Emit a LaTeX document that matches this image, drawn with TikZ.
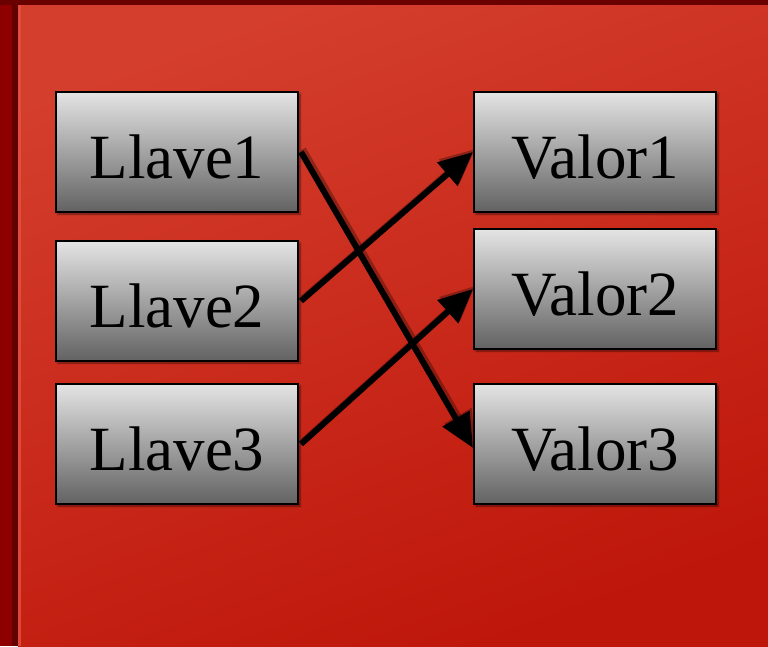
\documentclass[tikz,border=0pt]{standalone}
\usepackage{fontspec}
\setmainfont{Liberation Serif}
\usetikzlibrary{shadows.blur,arrows.meta}
\definecolor{bgdark}{HTML}{8E0000}
\definecolor{bgtop}{HTML}{6A0000}
\definecolor{paneltl}{HTML}{D43E2C}
\definecolor{panelbr}{HTML}{BE160A}
\definecolor{panedge}{HTML}{E25242}
\definecolor{boxtop}{HTML}{E4E4E4}
\definecolor{boxbot}{HTML}{626262}
\tikzset{
  kvbox/.style={draw=black, line width=2pt, minimum width=242pt, minimum height=120pt,
    top color=boxtop, bottom color=boxbot, inner sep=0pt,
    font=\fontsize{63}{70}\selectfont, text height=52pt, text depth=0pt,
    blur shadow={shadow xshift=2pt, shadow yshift=-2pt, shadow blur steps=6, shadow opacity=50}},
  link/.style={line width=6pt, -{Triangle[length=34pt,width=30pt]}},
  linkshadow/.style={link, black, opacity=0.3, transform canvas={shift={(2pt,3pt)}}}
}
\begin{document}
\begin{tikzpicture}[x=1pt,y=-1pt]
\useasboundingbox (0,0) rectangle (768,646);
\fill[bgdark] (0,0) rectangle (768,646);
\fill[bgtop] (0,0) rectangle (768,5);
\fill[black,opacity=0.3] (12,5) rectangle (18,646);
\shade[shading=axis, top color=paneltl, bottom color=panelbr, shading angle=20] (18,5) rectangle (768,646);
\fill[panedge,opacity=0.8] (18,5) rectangle (21,646);
\node[kvbox] (k1) at (177,152) {Llave1};
\node[kvbox] (k2) at (177,301) {Llave2};
\node[kvbox] (k3) at (177,444) {Llave3};
\node[kvbox] (v1) at (595,152) {Valor1};
\node[kvbox] (v2) at (595,289) {Valor2};
\node[kvbox] (v3) at (595,444) {Valor3};
\draw[linkshadow] ([xshift=2pt]k1.east) -- ([yshift=-4pt]v3.west);
\draw[linkshadow] ([xshift=2pt]k2.east) -- (v1.west);
\draw[linkshadow] ([xshift=2pt]k3.east) -- (v2.west);
\draw[link] ([xshift=2pt]k1.east) -- ([yshift=-4pt]v3.west);
\draw[link] ([xshift=2pt]k2.east) -- (v1.west);
\draw[link] ([xshift=2pt]k3.east) -- (v2.west);
\end{tikzpicture}
\end{document}
